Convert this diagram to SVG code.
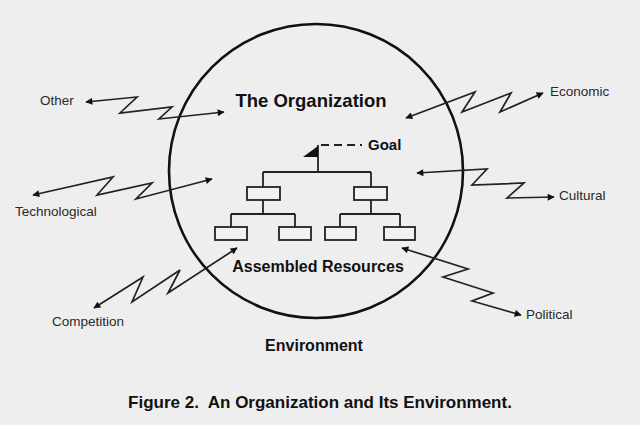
<svg xmlns="http://www.w3.org/2000/svg" width="640" height="425" viewBox="0 0 640 425">
<style>
.bg{fill:#eeeeee}
.lbl{font-family:"Liberation Sans",Arial,sans-serif;font-size:13.5px;fill:#2a2a2a}
.big{font-family:"Liberation Sans",Arial,sans-serif;font-weight:bold;fill:#111}
.zz{fill:none;stroke:#222;stroke-width:1.7;stroke-linejoin:miter;marker-start:url(#ah);marker-end:url(#ah)}
.org{fill:none;stroke:#222;stroke-width:1.8}
.box{fill:#f2f2f2;stroke:#222;stroke-width:1.8}
</style>
<defs>
<marker id="ah" viewBox="0 0 10 10" refX="9" refY="5" markerWidth="8" markerHeight="7" markerUnits="userSpaceOnUse" orient="auto-start-reverse">
<path d="M0,0 L10,5 L0,10 z" fill="#111"/>
</marker>
</defs>
<rect class="bg" x="0" y="0" width="640" height="425"/>

<g id="organization">
<circle cx="316" cy="171" r="147" fill="none" stroke="#111" stroke-width="2.6"/>
<text class="big" x="311" y="107" font-size="18.5" text-anchor="middle">The Organization</text>
</g>

<g id="goal">
<path d="M318,172 L318,145" class="org"/>
<path d="M318,146 L303,157 L318,157 z" fill="#111"/>
<path d="M321,145 L362,145" fill="none" stroke="#222" stroke-width="1.8" stroke-dasharray="8,5"/>
<text class="big" x="368" y="150" font-size="15">Goal</text>
</g>

<g id="assembled-resources">
<path class="org" d="M263,172 L371,172 M263,172 L263,187 M371,172 L371,187 M263,200 L263,214 M371,200 L371,214 M231,214 L295,214 M340,214 L400,214 M231,214 L231,227 M295,214 L295,227 M340,214 L340,227 M400,214 L400,227"/>
<rect class="box" x="247" y="187" width="33" height="13"/>
<rect class="box" x="354" y="187" width="33" height="13"/>
<rect class="box" x="215" y="227" width="32" height="13"/>
<rect class="box" x="279" y="227" width="32" height="13"/>
<rect class="box" x="325" y="227" width="31" height="13"/>
<rect class="box" x="384" y="227" width="31" height="13"/>
<text class="big" x="318" y="272" font-size="16" text-anchor="middle">Assembled Resources</text>
</g>

<g id="environment">
<text class="big" x="314" y="351" font-size="16" text-anchor="middle">Environment</text>
</g>

<g id="other"><text class="lbl" x="40" y="105">Other</text></g>
<g id="technological"><text class="lbl" x="15" y="216">Technological</text></g>
<g id="economic"><text class="lbl" x="550" y="96">Economic</text></g>
<g id="cultural"><text class="lbl" x="559" y="200">Cultural</text></g>
<g id="competition"><text class="lbl" x="52" y="326">Competition</text></g>
<g id="political"><text class="lbl" x="526" y="319">Political</text></g>

<g id="connectors">
<polyline class="zz" points="86,102 137,97 120,113 172,107 159,119 224,112"/>
<polyline class="zz" points="33,195 113,177 97,195 152,183 136,199 212,179"/>
<polyline class="zz" points="406,118 475,92 462,112 511,93 500,112 543,93"/>
<polyline class="zz" points="417,173 487,169 472,185 524,183 507,198 554,197"/>
<polyline class="zz" points="94,308 143,277 132,302 180,270 168,293 237,248"/>
<polyline class="zz" points="402,248 468,269 443,277 493,293 472,301 521,315"/>
</g>

<text class="big" x="320" y="408" font-size="17" text-anchor="middle" style="white-space:pre">Figure 2.  An Organization and Its Environment.</text>
</svg>
